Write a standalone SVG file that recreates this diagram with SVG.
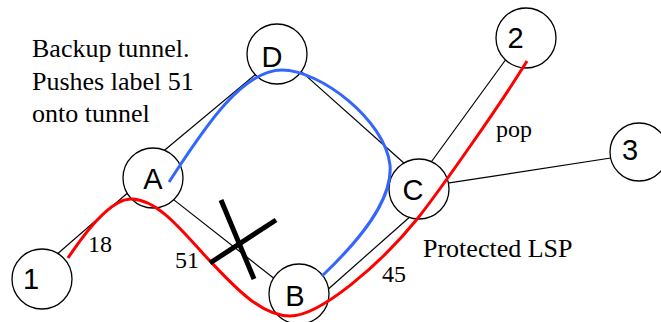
<svg xmlns="http://www.w3.org/2000/svg" width="661" height="322" viewBox="0 0 661 322">
<style>
.edge{stroke:#000;stroke-width:1.2;fill:none}
.node circle{fill:#fff;stroke:#000;stroke-width:1.3}
.node text{font-family:"Liberation Sans",Arial,sans-serif;font-size:29px;text-anchor:middle;fill:#000}
.lbl{font-family:"Liberation Serif","Times New Roman",serif;fill:#000}
.big{font-size:26px}
.small{font-size:24px}
.red{stroke:#ff0000;stroke-width:3;fill:none}
.blue{stroke:#3366ff;stroke-width:3;fill:none}
.x{stroke:#000;stroke-width:5;stroke-linecap:butt}
</style>
<rect width="661" height="322" fill="#fff"/>
<g id="connectors">
<line class="edge" x1="55" y1="256" x2="131" y2="190"/>
<line class="edge" x1="163" y1="151.5" x2="262" y2="69"/>
<line class="edge" x1="298" y1="68.6" x2="405" y2="164"/>
<line class="edge" x1="172" y1="198.4" x2="277" y2="280.7"/>
<line class="edge" x1="325" y1="292" x2="412" y2="215"/>
<line class="edge" x1="429" y1="165" x2="508" y2="56.5"/>
<line class="edge" x1="446" y1="183.4" x2="614" y2="157.5"/>
</g>
<g id="node-D" class="node"><circle cx="277" cy="54" r="30"/><text x="272" y="67">D</text></g>
<g id="node-A" class="node"><circle cx="153" cy="178" r="30"/><text x="153" y="189">A</text></g>
<g id="node-1" class="node"><circle cx="42" cy="279" r="30"/><text x="31" y="289">1</text></g>
<g id="node-B" class="node"><circle cx="299" cy="294" r="30"/><text x="295" y="306">B</text></g>
<g id="node-C" class="node"><circle cx="419" cy="189" r="30"/><text x="413" y="200">C</text></g>
<g id="node-2" class="node"><circle cx="526" cy="38" r="30"/><text x="515.5" y="48">2</text></g>
<g id="node-3" class="node"><circle cx="639" cy="152" r="29"/><text x="630" y="160">3</text></g>
<g id="paths">
<path class="blue" d="M169,182 C200,135 240,70 282,70 C320,70 385,120 390,165 C393,200 360,240 322,276"/>
<path class="red" d="M68,258 C88,228 112,198 132,199 C160,200 186,236 210,261 C232,284 260,316 290,316 C320,316 380,265 418,218 C440,190 500,105 527,61"/>
<line class="x" x1="221" y1="200" x2="254" y2="279"/>
<line class="x" x1="210" y1="263" x2="276" y2="220"/>
</g>
<g id="labels">
<text class="lbl big" x="32" y="57">Backup tunnel.</text>
<text class="lbl big" x="32" y="89.5">Pushes label 51</text>
<text class="lbl big" x="32" y="122">onto tunnel</text>
<text class="lbl big" x="423" y="257">Protected LSP</text>
<text class="lbl small" x="88" y="252">18</text>
<text class="lbl small" x="175" y="268">51</text>
<text class="lbl small" x="382" y="282">45</text>
<text class="lbl small" x="496" y="137">pop</text>
</g>
</svg>
